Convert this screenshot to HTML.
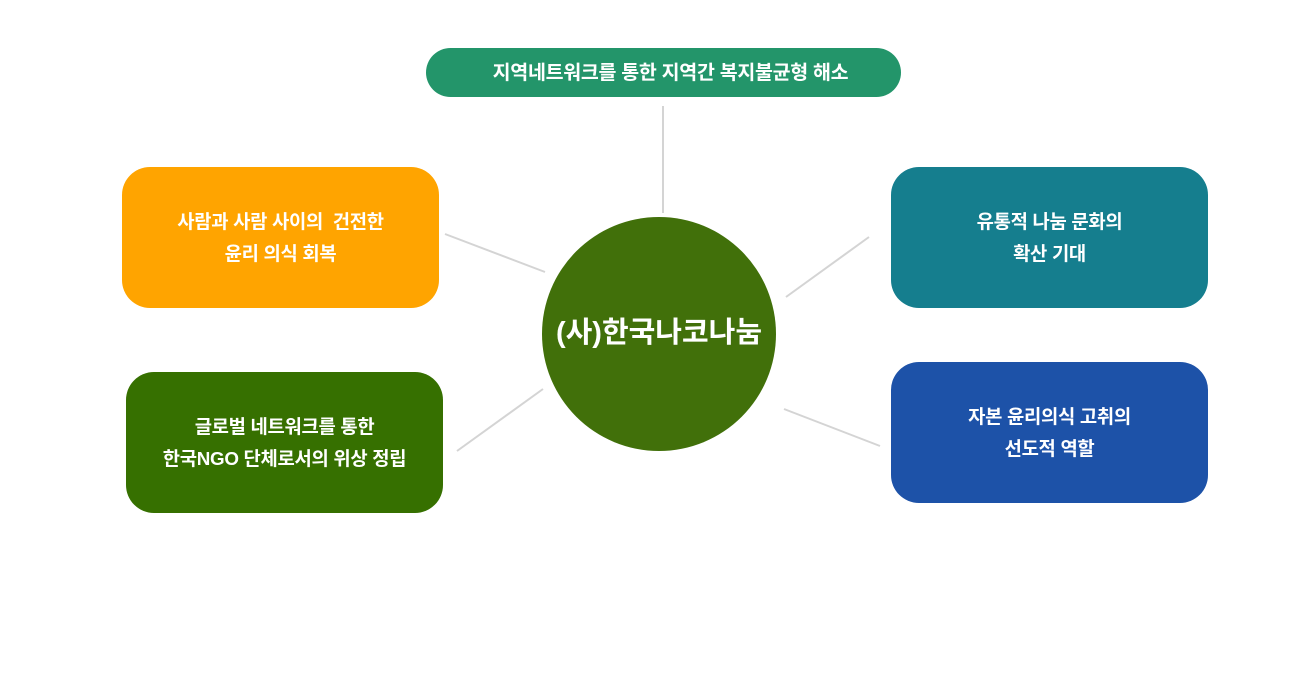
<!DOCTYPE html>
<html><head><meta charset="utf-8"><style>
body{margin:0;width:1300px;height:700px;background:#fff;position:relative;overflow:hidden;font-family:"Liberation Sans","Noto Sans CJK KR",sans-serif;font-weight:bold;color:#fff}
.b{position:absolute;display:flex;align-items:center;justify-content:center;text-align:center;font-size:18.8px;line-height:32px;letter-spacing:-0.3px}
</style></head><body>
<svg width="1300" height="700" style="position:absolute;left:0;top:0">
<g stroke="#d4d4d4" stroke-width="2">
<line x1="663" y1="106" x2="663" y2="213"/>
<line x1="445" y1="234" x2="545" y2="272"/>
<line x1="786" y1="297" x2="869" y2="237"/>
<line x1="457" y1="451" x2="543" y2="389"/>
<line x1="784" y1="409" x2="880" y2="446"/>
</g>
<circle cx="659" cy="334" r="117" fill="#41700a"/>
</svg>
<div class="b" style="left:426px;top:48px;width:475px;height:49px;border-radius:25px;background:#23956a;font-size:19.5px;padding-left:14px;box-sizing:border-box">지역네트워크를 통한 지역간 복지불균형 해소</div>
<div class="b" style="left:122px;top:167px;width:317px;height:141px;border-radius:28px;background:#ffa400">사람과 사람 사이의&nbsp; 건전한<br>윤리 의식 회복</div>
<div class="b" style="left:891px;top:167px;width:317px;height:141px;border-radius:28px;background:#157e8e">유통적 나눔 문화의<br>확산 기대</div>
<div class="b" style="left:126px;top:372px;width:317px;height:141px;border-radius:28px;background:#367000">글로벌 네트워크를 통한<br>한국NGO 단체로서의 위상 정립</div>
<div class="b" style="left:891px;top:362px;width:317px;height:141px;border-radius:28px;background:#1d52a8">자본 윤리의식 고취의<br>선도적 역할</div>
<div class="b" style="left:542px;top:310px;width:234px;height:46px;font-size:29px;letter-spacing:0">(사)한국나코나눔</div>
</body></html>
